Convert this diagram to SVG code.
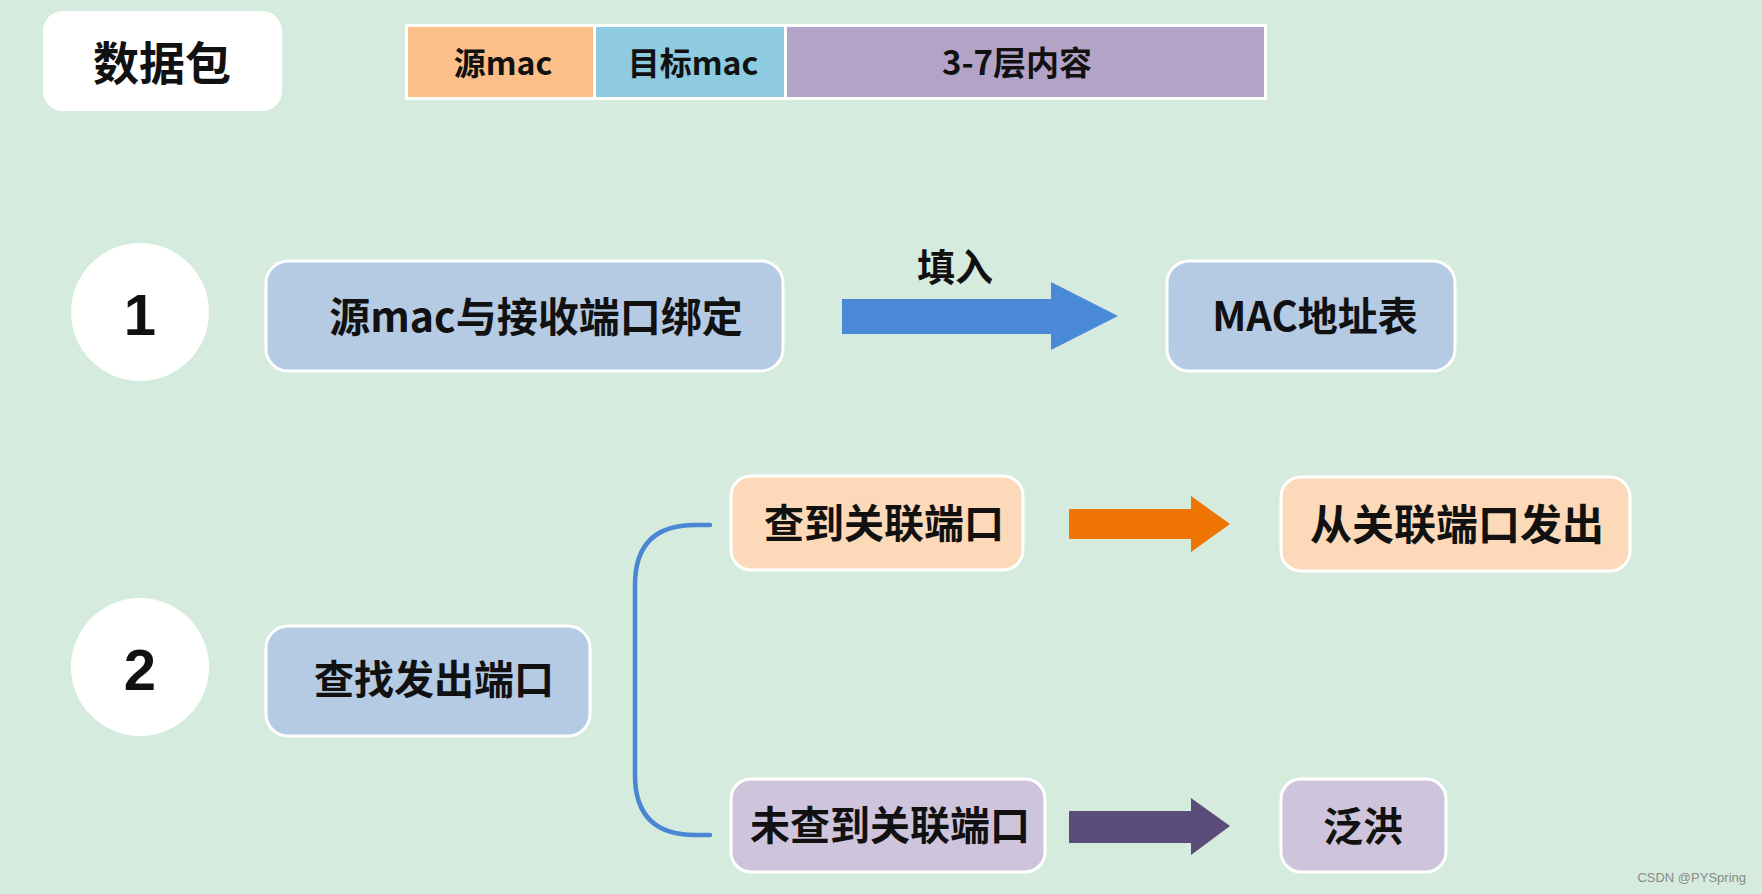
<svg xmlns="http://www.w3.org/2000/svg" width="1762" height="894" viewBox="0 0 1762 894">
<style>
.t{font-family:"Noto Sans CJK SC","Noto Sans",sans-serif;font-weight:700;fill:#111;text-anchor:middle;dominant-baseline:central}
.box{stroke:#FFFFFF;stroke-width:3}
.blue{fill:#B5CAE3}
.peach{fill:#FCD9B8}
.lav{fill:#CEC5DC}
.num{font-family:"Liberation Sans","DejaVu Sans",sans-serif;font-weight:700;fill:#111;text-anchor:middle;dominant-baseline:central;font-size:58px}
</style>
<rect x="0" y="0" width="1762" height="894" fill="#D5EBDE"/>

<g id="packet-label">
<rect x="43" y="11" width="239" height="100" rx="20" fill="#FFFFFF"/>
<text class="t" x="162" y="60" font-size="46">数据包</text>
</g>

<g id="packet-header">
<rect x="405" y="24" width="862" height="76" fill="#FFFFFF"/>
<rect x="408" y="27" width="185" height="70" fill="#FDBF8A"/>
<text class="t" x="503" y="61" font-size="32">源mac</text>
<rect x="596" y="27" width="188" height="70" fill="#8ECAE0"/>
<text class="t" x="693" y="61" font-size="32">目标mac</text>
<rect x="787" y="27" width="477" height="70" fill="#B3A3C7"/>
<text class="t" x="1017" y="61" font-size="33">3-7层内容</text>
</g>

<g id="step1">
<circle cx="140" cy="312" r="69" fill="#FFFFFF"/>
<text class="num" x="140" y="314">1</text>
</g>

<g id="bind">
<rect class="box blue" x="266" y="261" width="517" height="110" rx="22"/>
<text class="t" x="536" y="314" font-size="41">源mac与接收端口绑定</text>
</g>

<g id="mac-table">
<rect class="box blue" x="1167" y="261" width="288" height="110" rx="22"/>
<text class="t" x="1315" y="314" font-size="40">MAC地址表</text>
</g>

<g id="step2">
<circle cx="140" cy="667" r="69" fill="#FFFFFF"/>
<text class="num" x="140" y="669">2</text>
</g>

<g id="find-port">
<rect class="box blue" x="266" y="626" width="324" height="110" rx="22"/>
<text class="t" x="434" y="677" font-size="40">查找发出端口</text>
</g>

<g id="found">
<rect class="box peach" x="731" y="476" width="292" height="94" rx="20"/>
<text class="t" x="884" y="521" font-size="40">查到关联端口</text>
</g>

<g id="send-out">
<rect class="box peach" x="1281" y="477" width="349" height="94" rx="20"/>
<text class="t" x="1457" y="521" font-size="42">从关联端口发出</text>
</g>

<g id="not-found">
<rect class="box lav" x="731" y="779" width="314" height="93" rx="20"/>
<text class="t" x="890" y="823" font-size="40">未查到关联端口</text>
</g>

<g id="flood">
<rect class="box lav" x="1281" y="779" width="165" height="93" rx="20"/>
<text class="t" x="1363" y="824" font-size="40">泛洪</text>
</g>

<g id="connectors">
<polygon points="842,299 1051,299 1051,282 1118,316 1051,350 1051,334 842,334" fill="#4A89D8"/>
<text class="t" x="955" y="264" font-size="38">填入</text>
<path d="M710,525 L695,525 Q635,525 635,585 L635,775 Q635,835 695,835 L710,835" fill="none" stroke="#4A86D4" stroke-width="4.5" stroke-linecap="round"/>
<polygon points="1069,509 1191,509 1191,496 1230,524 1191,552 1191,539 1069,539" fill="#EE7403"/>
<polygon points="1069,811 1191,811 1191,798 1230,826 1191,855 1191,843 1069,843" fill="#5B4D7A"/>
</g>

<text x="1746" y="882" font-family="Liberation Sans, sans-serif" font-size="13" fill="#8A8A8A" text-anchor="end">CSDN @PYSpring</text>
</svg>
